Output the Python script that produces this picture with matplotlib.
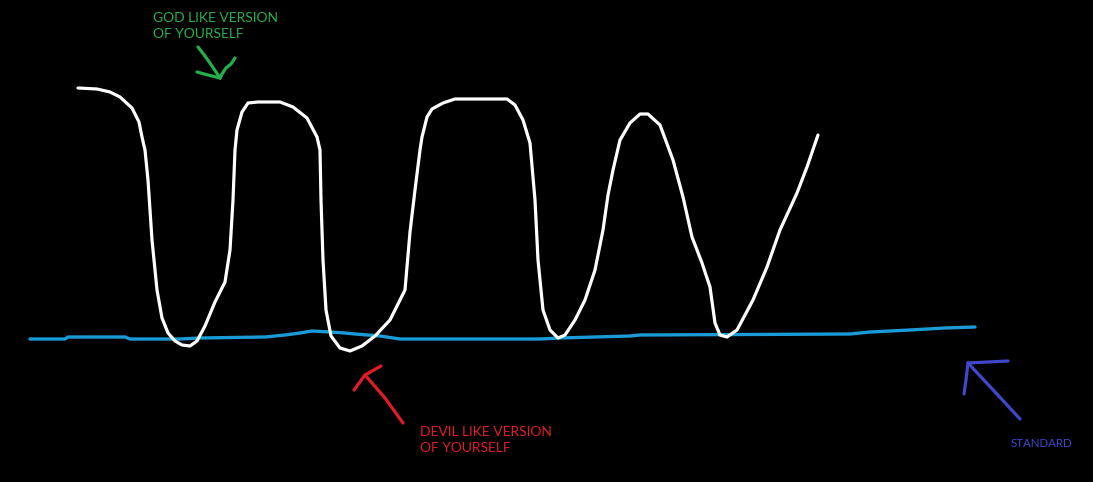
import matplotlib.pyplot as plt

# hand-drawn curve, traced in picture pixels (x right, y down)
self_x = [78, 97, 110, 120, 132, 139, 142, 145, 148, 152, 157, 162, 168, 175, 182, 190, 197, 205, 215, 225,
          230, 233, 235, 237, 242, 248, 258, 280, 293, 307, 317, 320, 321, 323, 326, 331, 340, 350, 362, 375,
          390, 405, 410, 415, 420, 422, 427, 432, 443, 455, 507, 515, 523, 530, 535, 538, 543, 550, 558, 565,
          575, 585, 595, 603, 608, 613, 620, 630, 640, 648, 660, 673, 683, 692, 702, 710, 715, 720, 727, 737,
          753, 767, 780, 797, 807, 818]
self_y = [88, 89, 92, 97, 108, 122, 137, 150, 180, 240, 290, 318, 333, 341, 345, 346, 341, 326, 302, 282,
          250, 200, 150, 130, 112, 103, 102, 102, 107, 118, 137, 150, 200, 260, 310, 336, 348, 351, 346, 336,
          320, 290, 232, 190, 150, 137, 117, 109, 103, 99, 99, 105, 120, 143, 200, 260, 310, 330, 338, 335,
          320, 300, 270, 230, 195, 170, 140, 123, 114, 114, 125, 160, 197, 237, 263, 287, 323, 335, 337, 330,
          300, 267, 230, 193, 167, 135]

standard_x = [30, 65, 68, 125, 130, 180, 200, 265, 285, 300, 312, 330, 345, 355, 380, 400,
              540, 560, 630, 640, 850, 870, 910, 945, 975]
standard_y = [339, 339, 337, 337, 339, 339, 338, 337, 335, 333, 331, 332, 333, 334, 336, 339,
              339, 338, 336, 335, 334, 332, 330, 328, 327]

# arrows (stroke point lists)
god_arrow = [[(198, 47), (205, 56), (212, 66), (220, 78)],
             [(197, 72), (208, 75), (220, 78)],
             [(235, 58), (231, 64), (226, 68), (222, 74), (220, 78)]]
devil_arrow = [[(403, 423), (385, 398), (365, 375)],
               [(354, 390), (365, 375), (381, 366)]]
std_arrow = [[(1020, 419), (995, 392), (968, 363)],
             [(1008, 361), (968, 363)],
             [(968, 363), (966, 380), (964, 394)]]

fig = plt.figure(figsize=(10.93, 4.82), dpi=100, facecolor='black')
ax = fig.add_axes([0, 0, 1, 1])
ax.set_facecolor('black')
ax.set_xlim(0, 1093)
ax.set_ylim(482, 0)
ax.axis('off')

ax.plot(standard_x, standard_y, color='#1a9ad6', linewidth=2.4, solid_capstyle='round')
ax.plot(self_x, self_y, color='white', linewidth=2.3, solid_capstyle='round', solid_joinstyle='round')

for strokes, col in [(god_arrow, '#22b14c'), (devil_arrow, '#e21c24'), (std_arrow, '#3f48cc')]:
    for s in strokes:
        ax.plot([p[0] for p in s], [p[1] for p in s], color=col, linewidth=2.3, solid_capstyle='round')

font = dict(family=['Lato', 'DejaVu Sans'], va='top', ha='left', linespacing=1.45)
ax.text(153, 12, 'GOD LIKE VERSION\nOF YOURSELF', color='#22b14c', fontsize=10, **font)
ax.text(420, 426, 'DEVIL LIKE VERSION\nOF YOURSELF', color='#e21c24', fontsize=10, **font)
ax.text(1011, 438, 'STANDARD', color='#3f48cc', fontsize=8.3, **font)

fig.savefig('out.png', dpi=100, facecolor='black')
